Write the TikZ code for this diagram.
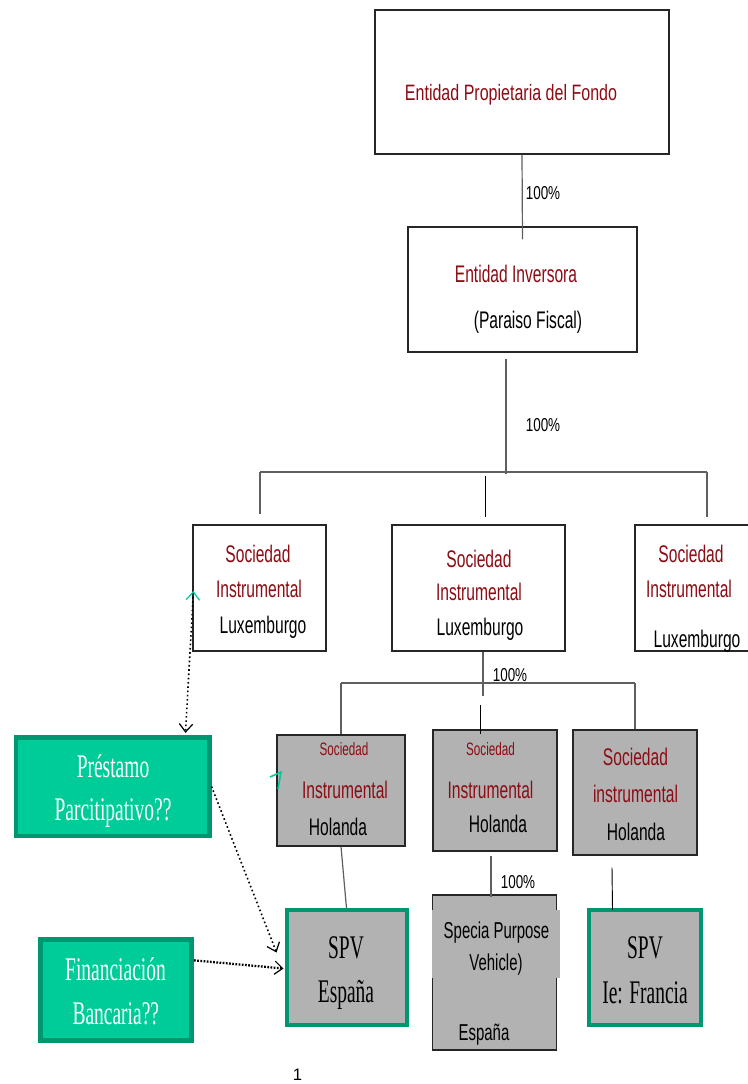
\documentclass[tikz,border=0pt]{standalone}
\usepackage{fontspec}
\setmainfont{Liberation Serif}
\newfontfamily\condsans[FakeStretch=0.65]{Liberation Sans}
\newfontfamily\narrowsans[FakeStretch=0.72]{Liberation Sans}
\newfontfamily\condserif[FakeStretch=0.59]{Liberation Serif}
\newfontfamily\plainsans{Liberation Sans}
\usetikzlibrary{arrows.meta,calc}

\definecolor{fundred}{RGB}{140,12,20}
\definecolor{boxgray}{RGB}{178,178,178}
\definecolor{loangreen}{RGB}{0,204,153}
\definecolor{loanedge}{RGB}{0,150,112}
\definecolor{linegray}{RGB}{95,95,95}

\tikzset{
  whitebox/.style={draw=black!85, line width=0.9pt, fill=white, inner sep=0pt},
  graybox/.style={draw=black!85, line width=0.9pt, fill=boxgray, inner sep=0pt},
  spvbox/.style={draw=loanedge, line width=3pt, fill=boxgray, inner sep=0pt},
  loanbox/.style={draw=loanedge, line width=3.5pt, fill=loangreen, inner sep=0pt},
  patchbox/.style={fill=boxgray, draw=none, inner sep=0pt},
  redtxt/.style={text=fundred, font=\condsans\fontsize{18pt}{20pt}\selectfont, anchor=base, inner sep=0pt},
  smallred/.style={text=fundred, font=\condsans\fontsize{13.5pt}{15pt}\selectfont, anchor=base, inner sep=0pt},
  blktxt/.style={text=black, font=\condsans\fontsize{18pt}{20pt}\selectfont, anchor=base, inner sep=0pt},
  titletxt/.style={text=fundred, font=\narrowsans\fontsize{16.7pt}{18pt}\selectfont, anchor=base, inner sep=0pt},
  pct/.style={text=black, font=\narrowsans\fontsize{14pt}{16pt}\selectfont, anchor=base, inner sep=0pt},
  whiteserif/.style={text=white, font=\condserif\fontsize{24.75pt}{26pt}\selectfont, anchor=base, inner sep=0pt},
  blackserif/.style={text=black, font=\condserif\fontsize{24.75pt}{26pt}\selectfont, anchor=base, inner sep=0pt},
  link/.style={draw=linegray, line width=0.9pt},
  blacklink/.style={draw=black, line width=0.7pt},
  dotlink/.style={dotted, line width=1.2pt, -{Straight Barb[length=6pt, width=10pt, line width=0.9pt]}},
}

\begin{document}
\begin{tikzpicture}[x=0.75pt, y=-0.75pt]
\clip (0,0) rectangle (748,1084);
\fill[white] (0,0) rectangle (748,1084);

% ---- owner and investor ----
\node[whitebox, minimum width=220.5pt, minimum height=108pt] (owner) at (522,82) {};
\node[titletxt] (ownertxt) at (511,101) {Entidad Propietaria del Fondo};

\node[whitebox, minimum width=171.75pt, minimum height=93.75pt] (inv) at (522.5,289.5) {};
\node[redtxt] (invtxt) at (516,282) {Entidad Inversora};
\node[blktxt] (invsub) at (528,328) {(Paraiso Fiscal)};

\draw[link] (owner.south) -- ($(inv.north)+(0,13)$);
\node[pct] (pct1) at (543,200) {100\%};

% ---- Luxembourg companies ----
\node[whitebox, minimum width=99.75pt, minimum height=94.5pt] (lux1) at (259.5,588) {};
\node[whitebox, minimum width=129.75pt, minimum height=94.5pt] (lux2) at (478.5,588) {};
\node[whitebox, minimum width=93.75pt, minimum height=94.5pt] (lux3) at (697.5,588) {};

\node[redtxt] (lux1a) at (258,562) {Sociedad};
\node[redtxt] (lux1b) at (259,597) {Instrumental};
\node[blktxt] (lux1c) at (263,633) {Luxemburgo};
\node[redtxt] (lux2a) at (479,567) {Sociedad};
\node[redtxt] (lux2b) at (479,600) {Instrumental};
\node[blktxt] (lux2c) at (480,635) {Luxemburgo};
\node[redtxt] (lux3a) at (691,562) {Sociedad};
\node[redtxt] (lux3b) at (689,597) {Instrumental};
\node[blktxt] (lux3c) at (697,647) {Luxemburgo};

% first distribution bus
\coordinate (busL) at (260,472);
\coordinate (busR) at (707,472);
\coordinate (busM) at (485,476);
\draw[link] ($(inv.south)+(-16.5,6)$) -- ++(0,115);
\draw[link] (busL) -- (busR);
\draw[link] (busL) -- ($(lux1.north)+(0.5,-10)$);
\draw[blacklink] (busM) -- ($(lux2.north)+(6.5,-7)$);
\draw[link] (busR) -- ($(lux3.north)+(9.5,-7)$);
\node[pct] (pct2) at (543,431) {100\%};

% ---- Dutch companies ----
\node[graybox, minimum width=96pt, minimum height=83.25pt] (hol1) at (341,790.5) {};
\node[graybox, minimum width=93pt, minimum height=90.75pt] (hol2) at (495,790.5) {};
\node[graybox, minimum width=93pt, minimum height=93.75pt] (hol3) at (635,792.5) {};

\node[smallred] (hol1a) at (344,755) {Sociedad};
\node[redtxt] (hol1b) at (345,798) {Instrumental};
\node[blktxt] (hol1c) at (338,835) {Holanda};
\node[smallred] (hol2a) at (490.5,755) {Sociedad};
\node[redtxt] (hol2b) at (490.5,798) {Instrumental};
\node[blktxt] (hol2c) at (498,832) {Holanda};
\node[redtxt] (hol3a) at (635.5,765) {Sociedad};
\node[redtxt] (hol3b) at (635.5,802) {instrumental};
\node[blktxt] (hol3c) at (636,840) {Holanda};

% second distribution bus
\coordinate (bus2L) at (341,683);
\coordinate (bus2R) at (635,683);
\draw[link] ($(lux2.south)+(4.5,0)$) -- ++(0,44);
\draw[link] (bus2L) -- (bus2R);
\draw[link] (bus2L) -- (hol1.north);
\draw[link] (bus2R) -- (hol3.north);
\draw[blacklink] ($(hol2.north)+(-15,-24)$) -- ($(hol2.north)+(-15,5)$);
\node[pct] (pct3) at (510,681) {100\%};

% ---- vehicles ----
\node[spvbox, minimum width=90pt, minimum height=86pt] (spvA) at (346.5,967.5) {};
\node[blackserif] (spvA1) at (346,958) {SPV};
\node[blackserif] (spvA2) at (346,1002) {España};

\node[graybox, minimum width=93pt, minimum height=116.25pt] (spvB) at (494.5,972.5) {};
\node[patchbox, minimum width=96pt, minimum height=51pt] (spvBpatch) at (496,944) {};
\node[blktxt, font=\condsans\fontsize{17.25pt}{19pt}\selectfont] (spvB1) at (496.5,938) {Specia Purpose};
\node[blktxt, font=\condsans\fontsize{17.25pt}{19pt}\selectfont] (spvB2) at (496,970) {Vehicle)};
\node[blktxt, font=\condsans\fontsize{17.25pt}{19pt}\selectfont] (spvB3) at (484,1040) {España};

\node[spvbox, minimum width=84pt, minimum height=86.5pt] (spvC) at (645,967.5) {};
\node[blackserif] (spvC1) at (645,958) {SPV};
\node[blackserif] (spvC2) at (645,1003) {Ie: Francia};

\draw[link] (hol1.south) -- (spvA.north);
\draw[link] ($(hol2.south)+(-4,4)$) -- ($(spvB.north)+(-3.5,3)$);
\node[pct] (pct4) at (518,888) {100\%};
\draw[blacklink] ($(hol3.south)+(-23,12)$) -- ($(spvC.north)+(-32.5,2)$);

% ---- financing sources ----
\node[loanbox, minimum width=145pt, minimum height=74pt] (loan) at (112.5,786.5) {};
\node[whiteserif] (loan1) at (113,777) {Préstamo};
\node[whiteserif] (loan2) at (113,820) {Parcitipativo??};

\node[loanbox, minimum width=113.5pt, minimum height=75.5pt] (bank) at (116,990) {};
\node[whiteserif] (bank1) at (115.5,980) {Financiación};
\node[whiteserif] (bank2) at (115.8,1024) {Bancaria??};

% dotted links
\draw[dotted, line width=1.2pt,
      {Straight Barb[length=6pt, width=10pt, line width=0.9pt, color=loangreen]}-{Straight Barb[length=6pt, width=10pt, line width=0.9pt]}]
  ($(lux1.west)+(1,3)$) -- ($(loan.north east)+(-26,-2)$);
\draw[dotlink] (loan.east) -- ($(spvA.west)+(-8,-15)$);
\draw[dotlink, line width=1.7pt, dash pattern=on 1.3pt off 1.1pt] ($(bank.north east)+(0,23)$) -- ($(spvA.west)+(-1,1)$);

% small pointer mark beside the first Dutch company
\draw[loangreen, line width=1.2pt] (270,777) -- (281,772) -- (278,789);

% page number
\node[font=\plainsans\fontsize{12.5pt}{14pt}\selectfont, anchor=base, inner sep=0pt] (pagenum) at (297.5,1080) {1};
\end{tikzpicture}
\end{document}
